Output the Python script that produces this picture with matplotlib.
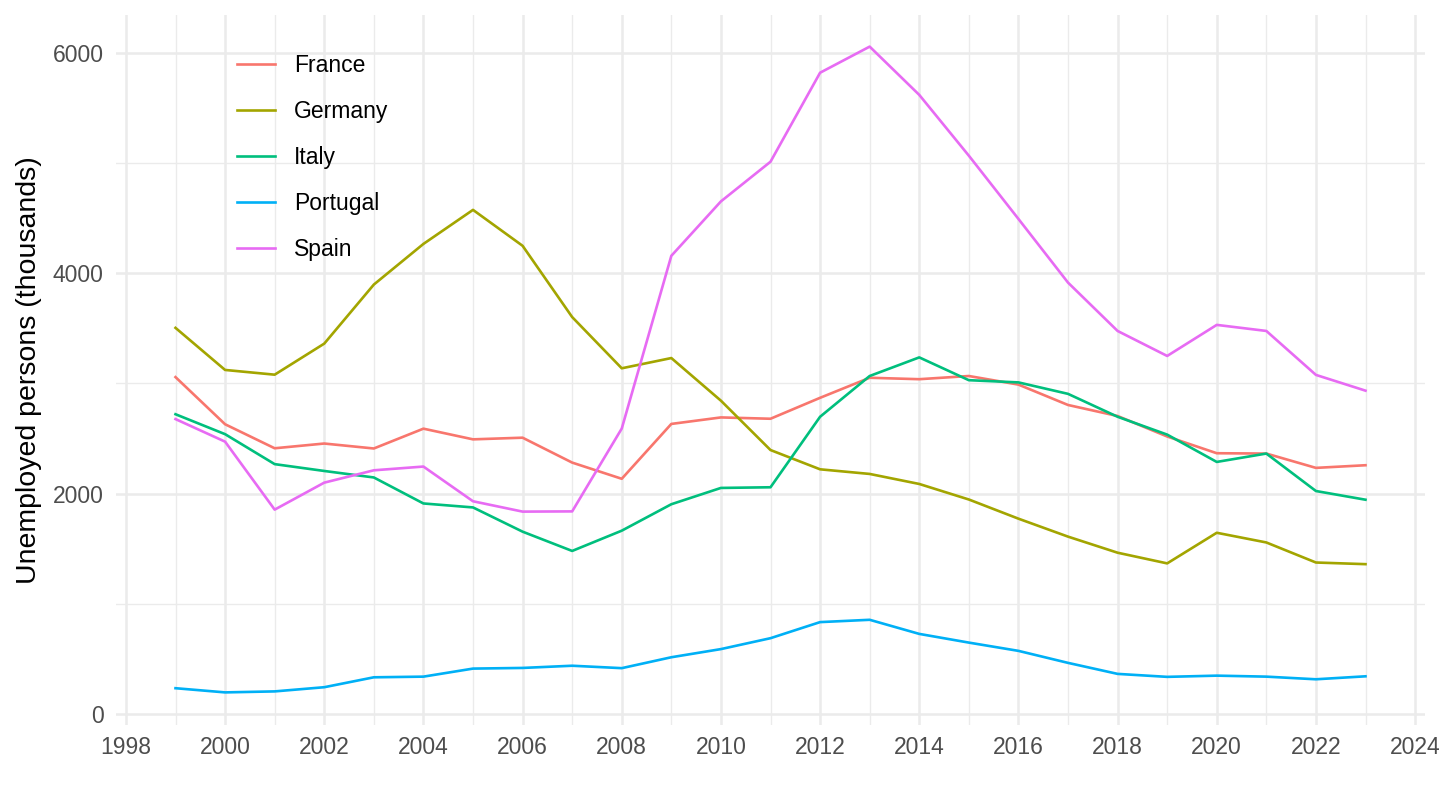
import numpy as np
import matplotlib
matplotlib.use("Agg")
import matplotlib.pyplot as plt
from matplotlib.ticker import MultipleLocator

plt.rcParams['font.family'] = ['Liberation Sans', 'DejaVu Sans']

#%% data (thousands of unemployed persons)
years = list(range(1999, 2024))
countries = ["France", "Germany", "Italy", "Portugal", "Spain"]

france = [3058, 2630, 2412, 2455, 2410, 2590, 2493, 2508, 2282, 2135,
          2633, 2692, 2680, 2870, 3052, 3039, 3068, 2990, 2805, 2705,
          2519, 2367, 2364, 2234, 2258]
germany = [3505, 3123, 3080, 3362, 3898, 4267, 4576, 4250, 3603, 3138,
           3231, 2844, 2396, 2221, 2179, 2088, 1947, 1773, 1610, 1464,
           1367, 1645, 1557, 1375, 1360]
italy = [2721, 2540, 2268, 2206, 2147, 1911, 1875, 1655, 1480, 1664,
         1904, 2052, 2058, 2698, 3068, 3237, 3030, 3010, 2906, 2698,
         2536, 2288, 2364, 2024, 1945]
portugal = [234, 196, 205, 243, 333, 339, 412, 418, 438, 416,
            515, 589, 688, 834, 855, 727, 648, 573, 464, 364,
            337, 348, 339, 315, 342]
spain = [2677, 2472, 1855, 2100, 2212, 2246, 1931, 1837, 1839, 2591,
         4159, 4653, 5013, 5821, 6058, 5620, 5068, 4494, 3916, 3477,
         3250, 3532, 3477, 3078, 2935]

colors = ["#F8766D", "#A3A500", "#00BF7D", "#00B0F6", "#E76BF3"]

#%% figure
fig = plt.figure(figsize=(14.4, 8.1), dpi=100)
ax = fig.add_axes([116/1440, 85/810, 1309/1440, 710/810])

for name, vals, col in zip(countries, [france, germany, italy, portugal, spain], colors):
    ax.plot(years, vals, color=col, linewidth=1.9, label=name)

ax.set_xlim(1997.8, 2024.2)
ax.set_ylim(-100, 6345)

ax.xaxis.set_major_locator(MultipleLocator(2))
ax.xaxis.set_minor_locator(MultipleLocator(1))
ax.yaxis.set_major_locator(MultipleLocator(2000))
ax.yaxis.set_minor_locator(MultipleLocator(1000))

ax.grid(which="major", color="#EBEBEB", linewidth=1.8)
ax.grid(which="minor", color="#EBEBEB", linewidth=1.0)
ax.set_axisbelow(True)
for s in ax.spines.values():
    s.set_visible(False)

ax.tick_params(which="both", length=0)
ax.tick_params(axis="x", labelsize=16.5, labelcolor="#4D4D4D", pad=8)
ax.tick_params(axis="y", labelsize=16.5, labelcolor="#4D4D4D", pad=9)

ax.set_ylabel("Unemployed persons (thousands)", fontsize=20.5, color="black")
ax.yaxis.set_label_coords(-0.0565, 0.5)

leg = ax.legend(loc="upper left", bbox_to_anchor=((237-116)/1309, (725-54)/710),
                frameon=False, fontsize=16.5, handlelength=1.65, handletextpad=0.85,
                labelspacing=1.0, borderpad=0, borderaxespad=0)

fig.savefig("out.png", dpi=100)
